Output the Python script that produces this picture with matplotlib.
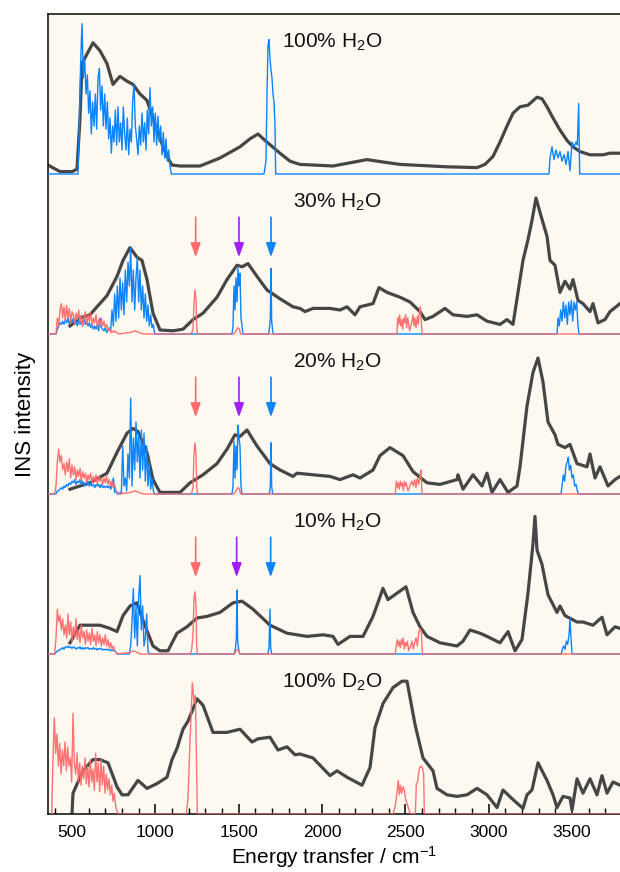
import numpy as np
import matplotlib
matplotlib.use("Agg")
import matplotlib.pyplot as plt
from matplotlib.ticker import MultipleLocator

plt.rcParams['font.family'] = ['Liberation Sans', 'DejaVu Sans']
plt.rcParams['mathtext.default'] = 'regular'

BG = '#fdf8f0'
GRAY = '#464646'
BLUE = '#0a84ff'
PINK = '#ff6b6b'
PURPLE = '#a31cff'
STEP = 8  # cm-1 spacing of the hand-read noisy segments

# ===== 100% H2O =====
h100_gray_x = [356, 428, 500, 530, 548, 560, 590, 626, 668, 710, 746, 770, 788, 830, 866, 908, 950, 986,
               1028, 1070, 1100, 1148, 1268, 1388, 1508, 1568, 1616, 1658, 1748, 1808, 1868, 2066, 2168,
               2270, 2366, 2468, 2750, 2930, 2978, 3026, 3068, 3110, 3146, 3188, 3236, 3290, 3320, 3350,
               3386, 3428, 3470, 3506, 3548, 3608, 3686, 3728, 3788]
h100_gray_y = [0.056, 0.015, 0.015, 0.03, 0.35, 0.69, 0.75, 0.82, 0.77, 0.69, 0.56, 0.59, 0.61, 0.58, 0.56,
               0.5, 0.46, 0.35, 0.22, 0.11, 0.056, 0.05, 0.05, 0.1, 0.17, 0.22, 0.25, 0.21, 0.13, 0.08, 0.06,
               0.05, 0.07, 0.09, 0.075, 0.06, 0.045, 0.04, 0.06, 0.11, 0.2, 0.3, 0.38, 0.42, 0.43, 0.48,
               0.47, 0.42, 0.35, 0.275, 0.21, 0.17, 0.14, 0.12, 0.12, 0.13, 0.13]
h100_blue_x0 = 544
h100_blue_noise = [0.3, 0.7, 0.94, 0.6, 0.72, 0.5, 0.62, 0.38, 0.52, 0.25,
                   0.45, 0.3, 0.5, 0.28, 0.6, 0.66, 0.4, 0.55, 0.3, 0.5,
                   0.28, 0.45, 0.22, 0.35, 0.13, 0.3, 0.2, 0.4, 0.18, 0.42,
                   0.2, 0.32, 0.15, 0.42, 0.25, 0.15, 0.35, 0.12, 0.28, 0.2,
                   0.45, 0.56, 0.3, 0.22, 0.12, 0.3, 0.18, 0.38, 0.2, 0.32,
                   0.15, 0.4, 0.25, 0.54, 0.3, 0.42, 0.2, 0.38, 0.18, 0.36,
                   0.2, 0.3, 0.12, 0.26, 0.1, 0.22, 0.08, 0.15, 0.05, 0.0]
h100_blue_x = [356, 536, 1100, 1652, 1664, 1670, 1676, 1682, 1688, 1694, 1700, 1706, 1712, 1718, 1722,
               3362, 3368, 3380, 3392, 3404, 3416, 3428, 3440, 3452, 3464, 3476, 3488, 3500, 3512, 3524,
               3532, 3540, 3546, 3788]
h100_blue_y = [0, 0, 0, 0, 0.08, 0.5, 0.8, 0.84, 0.72, 0.65, 0.6, 0.5, 0.45, 0.3, 0,
               0, 0.1, 0.17, 0.09, 0.15, 0.1, 0.14, 0.08, 0.12, 0.06, 0.14, 0.02, 0.2, 0.17, 0.2,
               0.18, 0.44, 0, 0]

# ===== 30% H2O =====
h30_gray_x = [488, 548, 608, 650, 710, 770, 806, 848, 890, 920, 950, 986, 1028, 1106, 1166, 1226, 1286,
              1370, 1430, 1490, 1520, 1556, 1610, 1670, 1748, 1826, 1868, 1898, 1946, 2048, 2108, 2150,
              2198, 2228, 2306, 2342, 2390, 2468, 2528, 2588, 2618, 2666, 2738, 2786, 2870, 2930, 2990,
              3068, 3110, 3146, 3176, 3206, 3236, 3260, 3284, 3308, 3350, 3368, 3398, 3428, 3458, 3488,
              3506, 3536, 3566, 3608, 3626, 3656, 3698, 3728, 3788]
h30_gray_y = [0.05, 0.1, 0.12, 0.17, 0.24, 0.36, 0.46, 0.54, 0.48, 0.46, 0.34, 0.13, 0.025, 0.02, 0.03,
              0.09, 0.13, 0.23, 0.34, 0.43, 0.42, 0.44, 0.36, 0.275, 0.22, 0.17, 0.16, 0.14, 0.16, 0.16,
              0.15, 0.17, 0.12, 0.17, 0.19, 0.29, 0.26, 0.23, 0.2, 0.14, 0.09, 0.11, 0.16, 0.12, 0.11,
              0.12, 0.08, 0.06, 0.09, 0.06, 0.26, 0.46, 0.59, 0.71, 0.85, 0.76, 0.61, 0.46, 0.43, 0.26,
              0.33, 0.28, 0.34, 0.21, 0.19, 0.14, 0.19, 0.07, 0.09, 0.14, 0.19]
h30_blue_x0 = 404
h30_blue_noise = [0.0, 0.03, 0.05, 0.07, 0.06, 0.08, 0.06, 0.09, 0.07, 0.1,
                  0.06, 0.09, 0.07, 0.1, 0.06, 0.08, 0.05, 0.09, 0.06, 0.08,
                  0.05, 0.1, 0.06, 0.08, 0.05, 0.07, 0.04, 0.06, 0.03, 0.05,
                  0.03, 0.06, 0.02, 0.1, 0.04, 0.03, 0.02, 0.04, 0.01,
                  0.02, 0.04, 0.02, 0.15, 0.05, 0.25, 0.08, 0.3, 0.1, 0.35,
                  0.15, 0.32, 0.12, 0.4, 0.2, 0.45, 0.3, 0.54, 0.2, 0.4,
                  0.15, 0.35, 0.48, 0.2, 0.4, 0.15, 0.3, 0.1, 0.25, 0.08,
                  0.18, 0.05, 0.12, 0.04, 0.06, 0.0]
h30_blue_x = [356, 396, 1000, 1460, 1466, 1472, 1478, 1484, 1490, 1496, 1502, 1508, 1514, 1520, 1526,
              1680, 1686, 1690, 1694, 1698, 1704, 1708,
              3410, 3416, 3424, 3432, 3440, 3448, 3456, 3464, 3472, 3480, 3488, 3496, 3504, 3512, 3520,
              3528, 3536, 3542, 3788]
h30_blue_y = [0, 0, 0, 0, 0.05, 0.3, 0.15, 0.35, 0.2, 0.41, 0.3, 0.38, 0.1, 0.05, 0,
              0, 0.05, 0.1, 0.41, 0.08, 0.02, 0,
              0, 0.1, 0.05, 0.15, 0.08, 0.2, 0.1, 0.18, 0.06, 0.2, 0.12, 0.21, 0.08, 0.2, 0.15,
              0.2, 0.05, 0, 0]
h30_pink_x0 = 404
h30_pink_noise = [0.0, 0.1, 0.05, 0.15, 0.19, 0.1, 0.17, 0.08, 0.18, 0.1,
                  0.16, 0.07, 0.14, 0.12, 0.06, 0.13, 0.09, 0.15, 0.07, 0.12,
                  0.05, 0.1, 0.14, 0.06, 0.12, 0.08, 0.13, 0.05, 0.1, 0.07,
                  0.12, 0.04, 0.09, 0.06, 0.1, 0.05, 0.08, 0.04, 0.06, 0.02,
                  0.04, 0.01, 0.02, 0.01, 0.02, 0.01, 0.01, 0.0]
h30_pink_x = [356, 396, 850, 880, 900, 930, 1216, 1226, 1232, 1238, 1244, 1248, 1252,
              1470, 1484, 1496, 1504, 1512,
              2450, 2454, 2460, 2466, 2472, 2478, 2484, 2490, 2496, 2502, 2508, 2514, 2520, 2526,
              2540, 2546, 2552, 2558, 2564, 2572, 2578, 2584, 2590, 2596, 2600, 3788]
h30_pink_y = [0, 0, 0.01, 0.02, 0.01, 0, 0, 0.03, 0.2, 0.275, 0.22, 0.05, 0,
              0, 0.02, 0.04, 0.03, 0,
              0, 0.1, 0.06, 0.12, 0.05, 0.09, 0.03, 0.1, 0.07, 0.12, 0.04, 0.1, 0.06, 0.02,
              0.08, 0.12, 0.05, 0.1, 0.04, 0.11, 0.06, 0.14, 0.17, 0.08, 0, 0]

# ===== 20% H2O =====
h20_gray_x = [488, 608, 710, 770, 830, 866, 896, 950, 986, 1028, 1148, 1208, 1286, 1370, 1430, 1478,
              1508, 1550, 1610, 1688, 1748, 1826, 1850, 1946, 2048, 2108, 2186, 2228, 2306, 2348, 2408,
              2486, 2546, 2630, 2708, 2810, 2816, 2846, 2906, 2960, 2990, 3020, 3068, 3116, 3170, 3188,
              3230, 3266, 3296, 3326, 3356, 3398, 3416, 3458, 3488, 3530, 3590, 3608, 3638, 3668, 3716,
              3758, 3788]
h20_gray_y = [0.03, 0.07, 0.13, 0.26, 0.38, 0.41, 0.39, 0.26, 0.09, 0.01, 0.01, 0.07, 0.12, 0.19, 0.28,
              0.37, 0.36, 0.4, 0.3, 0.19, 0.15, 0.11, 0.13, 0.12, 0.11, 0.09, 0.12, 0.1, 0.15, 0.24,
              0.29, 0.24, 0.14, 0.07, 0.06, 0.09, 0.12, 0.03, 0.12, 0.05, 0.13, 0.01, 0.09, 0.01, 0.05,
              0.17, 0.55, 0.76, 0.85, 0.7, 0.45, 0.37, 0.31, 0.29, 0.31, 0.19, 0.17, 0.25, 0.1, 0.17,
              0.05, 0.09, 0.11]
h20_blue_x0 = 404
h20_blue_noise = [0.0, 0.02, 0.02, 0.03, 0.04, 0.03, 0.05, 0.04, 0.06, 0.05,
                  0.07, 0.06, 0.08, 0.07, 0.09, 0.06, 0.08, 0.07, 0.09, 0.06,
                  0.08, 0.05, 0.07, 0.06, 0.08, 0.05, 0.07, 0.05, 0.06, 0.04,
                  0.06, 0.05, 0.06, 0.04, 0.06, 0.04, 0.05, 0.04, 0.05, 0.04,
                  0.05, 0.03, 0.05, 0.1, 0.01, 0.02, 0.0, 0.0, 0.01, 0.0,
                  0.3, 0.05, 0.1, 0.02, 0.25, 0.1, 0.6, 0.05, 0.35, 0.15,
                  0.45, 0.2, 0.38, 0.1, 0.4, 0.15, 0.38, 0.08, 0.3, 0.05,
                  0.2, 0.03, 0.1, 0.02, 0.0]
h20_blue_x = [356, 396, 1000, 1460, 1466, 1472, 1478, 1484, 1490, 1496, 1502, 1508, 1514, 1520,
              1684, 1690, 1694, 1698, 1704,
              3434, 3440, 3448, 3456, 3464, 3472, 3478, 3484, 3492, 3500, 3508, 3516, 3524, 3532, 3538,
              3788]
h20_blue_y = [0, 0, 0, 0, 0.05, 0.33, 0.1, 0.3, 0.15, 0.43, 0.35, 0.3, 0.05, 0,
              0, 0.05, 0.32, 0.05, 0,
              0, 0.05, 0.12, 0.08, 0.18, 0.2, 0.23, 0.15, 0.18, 0.1, 0.12, 0.05, 0.06, 0.02, 0,
              0]
h20_pink_x0 = 404
h20_pink_noise = [0.05, 0.2, 0.28, 0.2, 0.24, 0.15, 0.19, 0.12, 0.2, 0.14,
                  0.22, 0.1, 0.18, 0.12, 0.17, 0.09, 0.15, 0.11, 0.16, 0.08,
                  0.14, 0.1, 0.13, 0.07, 0.12, 0.09, 0.13, 0.07, 0.11, 0.08,
                  0.12, 0.06, 0.11, 0.08, 0.1, 0.06, 0.1, 0.07, 0.11, 0.06,
                  0.09, 0.05, 0.08, 0.04, 0.06, 0.02, 0.01, 0.0]
h20_pink_x = [356, 396, 850, 880, 900, 930, 1216, 1226, 1232, 1238, 1244, 1248, 1252,
              1470, 1484, 1496, 1504, 1512,
              2440, 2446, 2452, 2458, 2464, 2470, 2476, 2482, 2488, 2494, 2500, 2506, 2512, 2518,
              2530, 2540, 2548, 2556, 2564, 2572, 2580, 2588, 2594, 2600, 3788]
h20_pink_y = [0, 0, 0.01, 0.02, 0.01, 0, 0, 0.04, 0.25, 0.32, 0.25, 0.05, 0,
              0, 0.02, 0.04, 0.03, 0,
              0, 0.08, 0.04, 0.07, 0.03, 0.08, 0.05, 0.07, 0.02, 0.08, 0.05, 0.07, 0.03, 0.02,
              0.06, 0.08, 0.05, 0.09, 0.04, 0.1, 0.06, 0.12, 0.15, 0, 0]

# ===== 10% H2O =====
h10_gray_x = [488, 548, 668, 728, 770, 806, 848, 890, 926, 986, 1028, 1076, 1130, 1190, 1250, 1310,
              1388, 1466, 1520, 1586, 1688, 1790, 1910, 2006, 2066, 2096, 2168, 2246, 2306, 2366, 2396,
              2450, 2504, 2546, 2588, 2630, 2708, 2810, 2846, 2888, 2948, 2990, 3068, 3116, 3158, 3200,
              3236, 3266, 3278, 3290, 3320, 3356, 3410, 3428, 3458, 3530, 3566, 3626, 3680, 3710, 3758,
              3788]
h10_gray_y = [0.07, 0.18, 0.18, 0.16, 0.14, 0.24, 0.3, 0.32, 0.21, 0.05, 0.02, 0.02, 0.13, 0.17, 0.225,
              0.235, 0.26, 0.32, 0.33, 0.28, 0.18, 0.13, 0.11, 0.12, 0.11, 0.06, 0.11, 0.11, 0.235, 0.41,
              0.34, 0.38, 0.42, 0.26, 0.17, 0.11, 0.07, 0.05, 0.08, 0.15, 0.13, 0.11, 0.07, 0.14, 0.02,
              0.09, 0.38, 0.69, 0.86, 0.65, 0.56, 0.37, 0.26, 0.3, 0.24, 0.2, 0.2, 0.18, 0.23, 0.12,
              0.17, 0.16]
h10_blue_x0 = 404
h10_blue_noise = [0.01, 0.02, 0.02, 0.03, 0.03, 0.04, 0.03, 0.045, 0.04, 0.05,
                  0.04, 0.045, 0.035, 0.045, 0.04, 0.03, 0.04, 0.035, 0.045, 0.03,
                  0.04, 0.03, 0.04, 0.035, 0.04, 0.03, 0.035, 0.03, 0.04, 0.03,
                  0.035, 0.025, 0.035, 0.03, 0.035, 0.025, 0.03, 0.025, 0.03, 0.025,
                  0.03, 0.02, 0.025, 0.02, 0.025, 0.01, 0.0, 0.0, 0.0, 0.0,
                  0.0, 0.0, 0.0, 0.0, 0.0, 0.0, 0.05, 0.2, 0.41, 0.1,
                  0.3, 0.05, 0.35, 0.49, 0.15, 0.3, 0.05, 0.1, 0.25, 0.02, 0.0]
h10_blue_x = [356, 396, 964, 1474, 1480, 1486, 1490, 1494, 1500, 1506,
              1676, 1682, 1688, 1692, 1698,
              3436, 3442, 3450, 3458, 3466, 3474, 3482, 3488, 3494, 3500, 3788]
h10_blue_y = [0, 0, 0, 0, 0.03, 0.1, 0.4, 0.08, 0.03, 0,
              0, 0.04, 0.28, 0.04, 0,
              0, 0.03, 0.05, 0.03, 0.08, 0.06, 0.12, 0.225, 0.1, 0, 0]
h10_pink_x0 = 404
h10_pink_noise = [0.1, 0.28, 0.2, 0.24, 0.15, 0.22, 0.12, 0.18, 0.1, 0.25,
                  0.12, 0.2, 0.08, 0.17, 0.1, 0.22, 0.09, 0.15, 0.07, 0.18,
                  0.1, 0.14, 0.06, 0.15, 0.08, 0.13, 0.06, 0.16, 0.08, 0.12,
                  0.05, 0.14, 0.07, 0.12, 0.05, 0.1, 0.06, 0.12, 0.05, 0.09,
                  0.04, 0.07, 0.03, 0.05, 0.02, 0.01, 0.0]
h10_pink_x = [356, 396, 850, 870, 890, 910, 1210, 1218, 1226, 1232, 1238, 1244, 1248, 1252,
              1474, 1486, 1494, 1500, 1508,
              2440, 2446, 2452, 2458, 2464, 2470, 2476, 2482, 2488, 2494, 2500, 2506, 2512, 2520,
              2532, 2540, 2548, 2556, 2564, 2572, 2580, 2588, 2596, 2602, 3788]
h10_pink_y = [0, 0, 0.01, 0.02, 0.01, 0, 0, 0.03, 0.12, 0.35, 0.39, 0.3, 0.05, 0,
              0, 0.02, 0.03, 0.02, 0,
              0, 0.06, 0.09, 0.05, 0.08, 0.04, 0.09, 0.06, 0.1, 0.03, 0.07, 0.05, 0.08, 0.02,
              0.05, 0.08, 0.03, 0.07, 0.1, 0.05, 0.13, 0.16, 0.14, 0, 0]

# ===== 100% D2O =====
d100_gray_x = [500, 506, 566, 626, 668, 716, 770, 800, 836, 896, 950, 1010, 1070, 1100, 1130, 1166, 1196,
               1250, 1286, 1346, 1430, 1508, 1580, 1616, 1688, 1736, 1790, 1838, 1868, 1946, 2048, 2090,
               2150, 2240, 2288, 2318, 2366, 2426, 2480, 2510, 2558, 2606, 2666, 2690, 2750, 2810, 2870,
               2930, 2990, 3050, 3086, 3146, 3206, 3230, 3260, 3296, 3350, 3386, 3410, 3446, 3488, 3500,
               3530, 3566, 3608, 3650, 3680, 3710, 3746, 3788]
d100_gray_y = [0.0, 0.13, 0.27, 0.34, 0.34, 0.32, 0.17, 0.12, 0.12, 0.21, 0.16, 0.19, 0.23, 0.34, 0.41,
               0.53, 0.58, 0.72, 0.68, 0.51, 0.51, 0.53, 0.45, 0.47, 0.48, 0.4, 0.42, 0.37, 0.375, 0.35,
               0.24, 0.27, 0.23, 0.18, 0.29, 0.54, 0.69, 0.79, 0.83, 0.83, 0.56, 0.35, 0.27, 0.16, 0.12,
               0.11, 0.12, 0.16, 0.12, 0.04, 0.15, 0.09, 0.035, 0.12, 0.15, 0.32, 0.21, 0.12, 0.04, 0.11,
               0.1, 0.025, 0.22, 0.13, 0.22, 0.12, 0.24, 0.13, 0.2, 0.18]
d100_pink_x0 = 378
d100_pink_noise = [0.0, 0.35, 0.6, 0.38, 0.5, 0.3, 0.44, 0.25, 0.4, 0.3,
                   0.45, 0.27, 0.42, 0.3, 0.35, 0.2, 0.63, 0.32, 0.25, 0.38,
                   0.2, 0.32, 0.18, 0.3, 0.22, 0.35, 0.19, 0.3, 0.17, 0.34,
                   0.2, 0.28, 0.15, 0.38, 0.2, 0.32, 0.14, 0.34, 0.18, 0.3,
                   0.13, 0.25, 0.15, 0.22, 0.12, 0.18, 0.08, 0.13, 0.05, 0.02, 0.0]
d100_pink_x = [1186, 1196, 1206, 1214, 1222, 1228, 1234, 1240, 1246, 1252,
               2426, 2440, 2452, 2458, 2464, 2470, 2478, 2486, 2494, 2500, 2508, 2518, 2530,
               2560, 2566, 2574, 2580, 2586, 2594, 2602, 2610, 2614, 3788]
d100_pink_y = [0, 0.1, 0.4, 0.6, 0.82, 0.75, 0.69, 0.74, 0.4, 0,
               0, 0.05, 0.15, 0.21, 0.12, 0.18, 0.13, 0.17, 0.15, 0.1, 0.07, 0.04, 0,
               0, 0.19, 0.2, 0.26, 0.29, 0.3, 0.29, 0.25, 0, 0]

# panel labels, stacking offsets and marker arrows (cm-1)
panel_labels = ['100% H$_2$O', '30% H$_2$O', '20% H$_2$O', '10% H$_2$O', '100% D$_2$O']
panel_offsets = [4, 3, 2, 1, 0]
arrow_x = {3: [1242, 1502, 1694], 2: [1242, 1502, 1694], 1: [1242, 1488, 1692]}
arrow_colors = [PINK, PURPLE, BLUE]


def join(x0, noise, xs, ys):
    """Noise segment (regular STEP grid) + extra hand-read points, sorted by energy."""
    x = np.concatenate([x0 + STEP * np.arange(len(noise)), np.asarray(xs, float)])
    y = np.concatenate([np.asarray(noise, float), np.asarray(ys, float)])
    order = np.argsort(x, kind='stable')
    return x[order], y[order]


panels = [
    (h100_gray_x, h100_gray_y, join(h100_blue_x0, h100_blue_noise, h100_blue_x, h100_blue_y), None),
    (h30_gray_x, h30_gray_y, join(h30_blue_x0, h30_blue_noise, h30_blue_x, h30_blue_y),
     join(h30_pink_x0, h30_pink_noise, h30_pink_x, h30_pink_y)),
    (h20_gray_x, h20_gray_y, join(h20_blue_x0, h20_blue_noise, h20_blue_x, h20_blue_y),
     join(h20_pink_x0, h20_pink_noise, h20_pink_x, h20_pink_y)),
    (h10_gray_x, h10_gray_y, join(h10_blue_x0, h10_blue_noise, h10_blue_x, h10_blue_y),
     join(h10_pink_x0, h10_pink_noise, h10_pink_x, h10_pink_y)),
    (d100_gray_x, d100_gray_y, None, join(d100_pink_x0, d100_pink_noise, d100_pink_x, d100_pink_y)),
]

fig = plt.figure(figsize=(6.2, 8.72), dpi=100, facecolor='white')
ax = fig.add_axes([48 / 620, 58 / 872, 1 - 48 / 620, 800 / 872])
ax.set_facecolor(BG)

for (gx, gy, blue, pink), off, label in zip(panels, panel_offsets, panel_labels):
    ax.plot(gx, off + np.asarray(gy), color=GRAY, lw=2.3, solid_joinstyle='round', zorder=2)
    if blue is not None:
        ax.plot(blue[0], off + blue[1], color=BLUE, lw=1.0, zorder=3)
    if pink is not None:
        ax.plot(pink[0], off + pink[1], color=PINK, lw=1.0, alpha=0.95, zorder=4)
    ax.text(2360, off + 0.82, label, ha='right', va='center', fontsize=15, color='#111111')
    if off in arrow_x:
        for ax_x, c in zip(arrow_x[off], arrow_colors):
            ax.annotate('', xy=(ax_x, off + 0.48), xytext=(ax_x, off + 0.73),
                        arrowprops=dict(arrowstyle='-|>,head_width=0.3,head_length=0.85',
                                        color=c, lw=1.2, shrinkA=0, shrinkB=0, mutation_scale=10),
                        zorder=5)

ax.set_xlim(356, 3788)
ax.set_ylim(0, 5)
ax.set_yticks([])
ax.xaxis.set_major_locator(MultipleLocator(500))
ax.xaxis.set_minor_locator(MultipleLocator(100))
ax.tick_params(axis='x', which='major', direction='in', length=7, width=1.1, labelsize=12.5, pad=8,
               top=False)
ax.tick_params(axis='x', which='minor', direction='in', length=4, width=1.0, top=False)
for side in ['left', 'bottom', 'top']:
    ax.spines[side].set_linewidth(1.2)
    ax.spines[side].set_color('#1a1a1a')
ax.spines['right'].set_visible(False)

ax.set_xlabel('Energy transfer / cm$^{-1}$', fontsize=15, labelpad=3)
ax.set_ylabel('INS intensity', fontsize=16, labelpad=9)

fig.savefig('out.png', dpi=100, facecolor='white')
